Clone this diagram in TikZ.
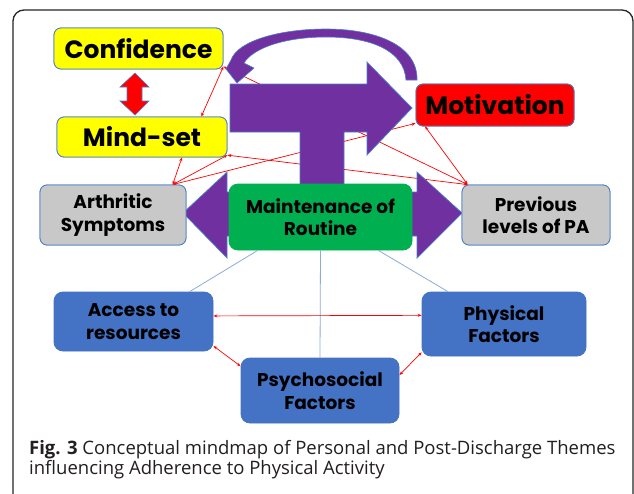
\documentclass[tikz,border=0pt]{standalone}
\usepackage{fontspec}
\setmainfont{Open Sans}
\newfontfamily\boxfont{Poppins}
\usetikzlibrary{arrows.meta}
\definecolor{pur}{HTML}{7030A0}
\definecolor{bordblue}{HTML}{4A7FCB}
\definecolor{boxblue}{HTML}{4472C4}
\definecolor{lineblue}{HTML}{8EAADB}
\definecolor{yel}{HTML}{FFFF00}
\definecolor{rd}{HTML}{FF0000}
\definecolor{gry}{HTML}{C8C8C8}
\definecolor{grn}{HTML}{00B050}
\definecolor{captxt}{HTML}{231F20}
\tikzset{
  mbox/.style={draw=bordblue, line width=0.8pt, rounded corners=7pt, inner sep=0pt, align=center, font=\boxfont\bfseries, text=black},
  bigtxt/.style={font=\boxfont\bfseries\fontsize{25}{29}\selectfont},
  midtxt/.style={font=\boxfont\bfseries\fontsize{18.5}{22.5}\selectfont},
  redline/.style={draw=rd, line width=0.7pt, {Stealth[length=4pt,width=3pt]}-{Stealth[length=4pt,width=3pt]}},
  blueline/.style={draw=lineblue, line width=0.8pt},
  purp/.style={fill=pur, draw=bordblue, line width=0.7pt, line join=miter},
}
\begin{document}
\begin{tikzpicture}[x=1pt,y=-1pt]
\useasboundingbox (0,0) rectangle (634,493);
\clip (0,0) rectangle (634,493);
\fill[white] (0,0) rectangle (634,493);
% frame
\draw[line width=1.3pt, rounded corners=11pt, draw=black!85] (13,10) rectangle (633,530);

\path
 (138.5,48.5) node[mbox, fill=yel, minimum width=169pt, minimum height=41pt, bigtxt] (conf) {Confidence}
 (142,137) node[mbox, fill=yel, minimum width=170pt, minimum height=40pt, bigtxt] (mind) {Mind-set}
 (495,105) node[mbox, fill=rd, minimum width=158pt, minimum height=42pt, bigtxt] (mot) {Motivation};

\node[mbox, fill=gry, minimum width=146pt, minimum height=60pt, midtxt] (arth) at (113,215) {Arthritic\\Symptoms};
\node[mbox, fill=gry, minimum width=148pt, minimum height=60pt, midtxt] (prev) at (536,215) {Previous\\levels of PA};

% red connectors (drawn behind purple arrows)
\draw[redline] (conf.-12) -- (mind.19);
\draw[redline] (conf.-12) -- (prev.156);
\draw[redline] (mind.-27) -- (arth.27);
\draw[redline] (mind.-12) -- (arth.27);
\draw[redline] (mind.-12) -- (prev.156);
\draw[redline] (arth.27) -- (mot.193);
\draw[redline] (mot.197) -- (prev.156);

% purple T arrow
\draw[purp] (230,84) -- (367,84) -- (367,62) -- (412,108) -- (367,155) -- (367,132) -- (344,132) -- (344,186) -- (300,186) -- (300,132) -- (230,132) -- cycle;
% purple left-right arrow
\draw[purp] (227,192) -- (227,172) -- (183,213) -- (227,258) -- (227,236) -- (417,236) -- (417,258) -- (462,213) -- (417,172) -- (417,192) -- cycle;
% curved arrow
\draw[fill=pur, draw=bordblue, line width=0.6pt]
  (417,80) .. controls (418,45) and (375,29) .. (326,29)
  .. controls (282,29) and (238,40) .. (231,60)
  -- (226,69) -- (237,83) -- (254,68) -- (244,63)
  .. controls (254,47) and (287,37) .. (326,37)
  .. controls (370,37) and (404,50) .. (406,80) -- cycle;

% red double arrow between Confidence and Mind-set
\draw[fill=rd, draw=bordblue, line width=0.6pt] (135,73) -- (149,87) -- (142,87) -- (142,101) -- (149,101) -- (135,115) -- (120,101) -- (127,101) -- (127,87) -- (120,87) -- cycle;

% redraw top boxes on top
\node[mbox, fill=yel, minimum width=169pt, minimum height=41pt, bigtxt] at (conf) {Confidence};
\node[mbox, fill=yel, minimum width=170pt, minimum height=40pt, bigtxt] at (mind) {Mind-set};
\node[mbox, fill=rd, minimum width=158pt, minimum height=42pt, bigtxt] at (mot) {Motivation};
\node[mbox, fill=gry, minimum width=146pt, minimum height=60pt, midtxt] at (arth) {Arthritic\\Symptoms};
\node[mbox, fill=gry, minimum width=148pt, minimum height=60pt, midtxt] at (prev) {Previous\\levels of PA};

% central and lower boxes
\node[mbox, fill=grn, draw=grn, rounded corners=9pt, minimum width=183pt, minimum height=66pt, midtxt] (maint) at (320.5,217) {Maintenance of\\Routine};
\node[mbox, fill=boxblue, draw=boxblue, rounded corners=9pt, minimum width=159pt, minimum height=59pt, midtxt] (acc) at (133.5,321.5) {Access to\\resources};
\node[mbox, fill=boxblue, draw=boxblue, rounded corners=9pt, minimum width=158pt, minimum height=65pt, midtxt] (psy) at (320,390.5) {Psychosocial\\Factors};
\node[mbox, fill=boxblue, draw=boxblue, rounded corners=9pt, minimum width=164pt, minimum height=64pt, midtxt] (phys) at (504,324) {Physical\\Factors};

% light blue links
\draw[blueline] (maint.208.6) -- (acc.28.4);
\draw[blueline] (maint.south) -- (psy.north);
\draw[blueline] (maint.-30) -- (phys.150);

% red links bottom
\draw[redline] (acc.4) -- (phys.174);
\draw[redline] (acc.-17) -- (psy.163);
\draw[redline] (psy.11) -- (phys.199);

% caption
\node[anchor=base west, inner sep=0pt, text=captxt, font=\fontsize{18.5}{21}\selectfont] (cap1) at (29,454) {\textbf{Fig. 3} Conceptual mindmap of Personal and Post-Discharge Themes};
\node[anchor=base west, inner sep=0pt, text=captxt, font=\fontsize{18.5}{21}\selectfont] (cap2) at (29,474) {influencing Adherence to Physical Activity};
\end{tikzpicture}
\end{document}
